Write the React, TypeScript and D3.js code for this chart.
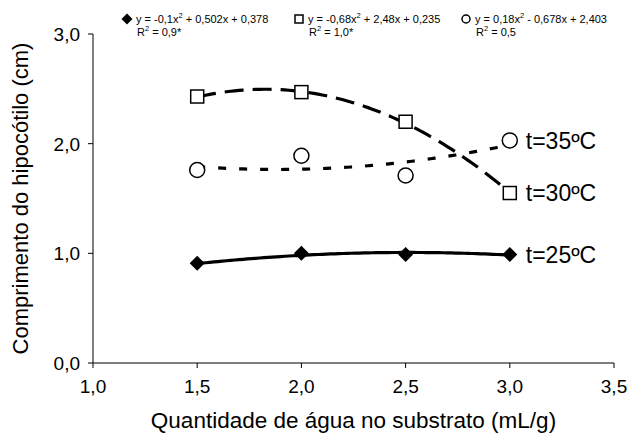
import React from 'react';
import * as d3 from 'd3';

const xValues = [1.5, 2.0, 2.5, 3.0];
const seriesNames = ['t=25ºC', 't=30ºC', 't=35ºC'];
const values25 = [0.91, 1.0, 0.99, 0.99];
const values30 = [2.43, 2.47, 2.2, 1.55];
const values35 = [1.76, 1.89, 1.71, 2.03];
// trend coefficients [a, b, c] for y = a x^2 + b x + c, as printed in the legend
const coef25 = [-0.1, 0.502, 0.378];
const coef30 = [-0.68, 2.48, 0.235];
const coef35 = [0.18, -0.678, 2.403];
const eqLeft = ['y = -0,1x', 'y = -0,68x', 'y = 0,18x'];
const eqRight = [' + 0,502x + 0,378', ' + 2,48x + 0,235', ' - 0,678x + 2,403'];
const r2Text = [' = 0,9*', ' = 1,0*', ' = 0,5'];
const xTicks = [1.0, 1.5, 2.0, 2.5, 3.0, 3.5];
const yTicks = [0, 1, 2, 3];

const W = 642;
const H = 440;
const margin = { top: 34, right: 28, bottom: 77, left: 93 };

const fmt = (v: number) => v.toFixed(1).replace('.', ',');

export default function App() {
  const x = d3.scaleLinear().domain([1, 3.5]).range([margin.left, W - margin.right]);
  const y = d3.scaleLinear().domain([0, 3]).range([H - margin.bottom, margin.top]);

  const series = [
    { name: seriesNames[0], vals: values25, coef: coef25, shape: 'diamond', dash: undefined as string | undefined },
    { name: seriesNames[1], vals: values30, coef: coef30, shape: 'square', dash: '19 9' },
    { name: seriesNames[2], vals: values35, coef: coef35, shape: 'circle', dash: '8 13' },
  ];

  const trend = (c: number[]) => {
    const xs = d3.range(1.5, 3.0001, 0.02);
    return d3
      .line<number>()
      .x((d) => x(d))
      .y((d) => y(c[0] * d * d + c[1] * d + c[2]))(xs) as string;
  };

  const marker = (shape: string, cx: number, cy: number, s: number, key?: string) => {
    if (shape === 'diamond') {
      const h = s / 2;
      return <path key={key} d={`M0,${-h}L${h},0L0,${h}L${-h},0Z`} transform={`translate(${cx},${cy})`} fill="#000" />;
    }
    if (shape === 'square') {
      return <rect key={key} x={cx - s / 2} y={cy - s / 2} width={s} height={s} fill="#fff" stroke="#000" strokeWidth={1.5} />;
    }
    return <circle key={key} cx={cx} cy={cy} r={s / 2} fill="#fff" stroke="#000" strokeWidth={1.5} />;
  };

  const font = "'Liberation Sans', Arial, sans-serif";
  const legendX = [127, 299, 466];

  return (
    <svg width={W} height={H} style={{ position: 'absolute', left: 0, top: 0, background: '#fff' }} fontFamily={font}>
      <rect width={W} height={H} fill="#fff" />
      {/* axes */}
      <line x1={x(1)} x2={x(1)} y1={y(0)} y2={y(3)} stroke="#000" />
      <line x1={x(1)} x2={x(3.5)} y1={y(0)} y2={y(0)} stroke="#000" />
      {yTicks.map((t) => (
        <g key={'y' + t}>
          <line x1={x(1) - 5} x2={x(1)} y1={y(t)} y2={y(t)} stroke="#000" />
          <text x={x(1) - 13} y={y(t)} dy="0.36em" textAnchor="end" fontSize={19}>{fmt(t)}</text>
        </g>
      ))}
      {xTicks.map((t) => (
        <g key={'x' + t}>
          <line x1={x(t)} x2={x(t)} y1={y(0)} y2={y(0) + 5} stroke="#000" />
          <text x={x(t)} y={y(0) + 30} textAnchor="middle" fontSize={19}>{fmt(t)}</text>
        </g>
      ))}
      <text x={(x(1) + x(3.5)) / 2} y={428} textAnchor="middle" fontSize={22.5}>
        Quantidade de água no substrato (mL/g)
      </text>
      <text
        transform={`translate(28,${(y(0) + y(3)) / 2}) rotate(-90)`}
        textAnchor="middle"
        fontSize={22}
      >
        Comprimento do hipocótilo (cm)
      </text>

      {/* trend lines */}
      {series.map((s, i) => (
        <path key={'t' + i} d={trend(s.coef)} fill="none" stroke="#000" strokeWidth={3.2} strokeDasharray={s.dash} />
      ))}
      {/* points */}
      {series.map((s, i) => (
        <g key={'p' + i}>{s.vals.map((v, j) => marker(s.shape, x(xValues[j]), y(v), s.shape === 'circle' ? 15 : s.shape === 'diamond' ? 15 : 13, `${i}-${j}`))}</g>
      ))}
      {/* series labels */}
      {series.map((s, i) => (
        <text key={'l' + i} x={x(3.0) + 16} y={y(s.vals[3])} dy="0.36em" fontSize={23}>{s.name}</text>
      ))}

      {/* legend */}
      {series.map((s, i) => (
        <g key={'lg' + i} fontSize={11}>
          {marker(s.shape, legendX[i], 19, s.shape === 'diamond' ? 11 : 8)}
          <text x={legendX[i] + 9} y={23}>
            {eqLeft[i]}
            <tspan dy={-5} fontSize={7.5}>2</tspan>
            <tspan dy={5}>{eqRight[i]}</tspan>
          </text>
          <text x={legendX[i] + 10} y={36}>
            R<tspan dy={-5} fontSize={7.5}>2</tspan>
            <tspan dy={5}>{r2Text[i]}</tspan>
          </text>
        </g>
      ))}
    </svg>
  );
}
